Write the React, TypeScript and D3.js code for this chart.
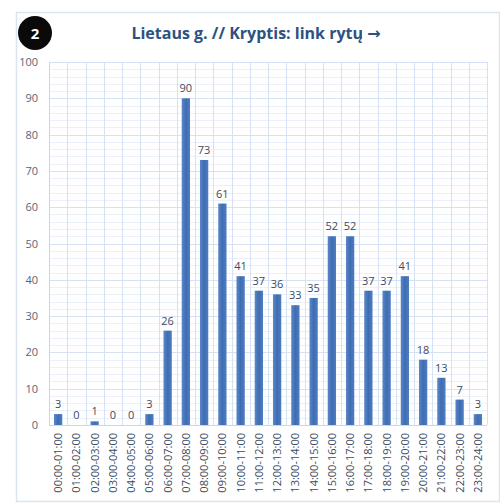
import React, { useEffect, useRef } from "react";
import * as d3 from "d3";

const hours = [
  "00:00-01:00", "01:00-02:00", "02:00-03:00", "03:00-04:00", "04:00-05:00", "05:00-06:00",
  "06:00-07:00", "07:00-08:00", "08:00-09:00", "09:00-10:00", "10:00-11:00", "11:00-12:00",
  "12:00-13:00", "13:00-14:00", "14:00-15:00", "15:00-16:00", "16:00-17:00", "17:00-18:00",
  "18:00-19:00", "19:00-20:00", "20:00-21:00", "21:00-22:00", "22:00-23:00", "23:00-24:00",
];
const counts = [3, 0, 1, 0, 0, 3, 26, 90, 73, 61, 41, 37, 36, 33, 35, 52, 52, 37, 37, 41, 18, 13, 7, 3];
const yTicks = [0, 10, 20, 30, 40, 50, 60, 70, 80, 90, 100];
const title = "Lietaus g. // Kryptis: link rytų ";
const titleArrow = "→";

export default function App() {
  const ref = useRef<SVGSVGElement>(null);

  useEffect(() => {
    const svg = d3.select(ref.current);
    svg.selectAll("*").remove();

    const margin = { top: 62, left: 49, right: 13, bottom: 79 };
    const width = 500, height = 504;
    const font = "'Open Sans', 'Noto Sans', sans-serif";

    // gradient for bars
    const defs = svg.append("defs");
    const grad = defs.append("linearGradient").attr("id", "barGrad").attr("x1", "0").attr("x2", "1");
    grad.append("stop").attr("offset", "0%").attr("stop-color", "#5b87c7");
    grad.append("stop").attr("offset", "50%").attr("stop-color", "#3f6db3");
    grad.append("stop").attr("offset", "100%").attr("stop-color", "#4f7dc0");

    // outer frame
    svg.append("rect")
      .attr("x", 16.5).attr("y", 12.5)
      .attr("width", 483).attr("height", 489)
      .attr("fill", "white").attr("stroke", "#dbe5f1").attr("stroke-width", 1.5);

    // badge
    svg.append("circle").attr("cx", 35).attr("cy", 33).attr("r", 17).attr("fill", "#0a0a0a");
    svg.append("text").attr("x", 35).attr("y", 38.5).attr("text-anchor", "middle")
      .attr("fill", "white").attr("font-family", font).attr("font-weight", "bold")
      .attr("font-size", 15).text("2");

    // title
    const t = svg.append("text").attr("x", 256).attr("y", 39).attr("text-anchor", "middle")
      .attr("fill", "#2c5282").attr("font-family", font).attr("font-weight", "bold")
      .attr("font-size", 16);
    t.append("tspan").text(title);
    t.append("tspan").attr("font-family", "'DejaVu Sans', sans-serif").attr("font-size", 16).text(titleArrow);

    const x = d3.scaleBand()
      .domain(hours)
      .range([margin.left, width - margin.right]);

    const y = d3.scaleLinear()
      .domain([0, 100])
      .range([height - margin.bottom, margin.top]);

    // minor grid
    svg.append("g")
      .selectAll("line")
      .data(d3.range(0, 101, 2))
      .enter()
      .append("line")
      .attr("x1", margin.left).attr("x2", width - margin.right)
      .attr("y1", d => Math.round(y(d)) + 0.5).attr("y2", d => Math.round(y(d)) + 0.5)
      .attr("stroke", d => (d % 10 === 0 ? "#d6e2f3" : "#ebf1fa"))
      .attr("stroke-width", 1);

    // vertical grid
    svg.append("g")
      .selectAll("line")
      .data(hours.concat(["end"]))
      .enter()
      .append("line")
      .attr("x1", (d, i) => Math.round(margin.left + i * x.bandwidth()) + 0.5)
      .attr("x2", (d, i) => Math.round(margin.left + i * x.bandwidth()) + 0.5)
      .attr("y1", y(100)).attr("y2", y(0))
      .attr("stroke", "#d6e2f3");

    // axis lines
    svg.append("line")
      .attr("x1", margin.left + 0.5).attr("x2", margin.left + 0.5)
      .attr("y1", y(100)).attr("y2", y(0))
      .attr("stroke", "#c6d7ee");
    svg.append("line")
      .attr("x1", margin.left).attr("x2", width - margin.right)
      .attr("y1", Math.round(y(0)) + 0.5).attr("y2", Math.round(y(0)) + 0.5)
      .attr("stroke", "#c6d7ee");

    // y tick labels
    svg.append("g")
      .selectAll("text")
      .data(yTicks)
      .enter()
      .append("text")
      .attr("x", 38).attr("y", d => y(d) + 4)
      .attr("text-anchor", "end")
      .attr("fill", "#5a6478").attr("font-family", font).attr("font-size", 11)
      .text(d => d);

    // bars
    const barW = 8.3;
    svg.append("g")
      .selectAll("rect")
      .data(counts)
      .enter()
      .append("rect")
      .attr("x", (d, i) => x(hours[i])! + (x.bandwidth() - barW) / 2)
      .attr("y", d => y(d))
      .attr("width", barW)
      .attr("height", d => y(0) - y(d))
      .attr("fill", "url(#barGrad)");

    // value labels
    svg.append("g")
      .selectAll("text")
      .data(counts)
      .enter()
      .append("text")
      .attr("x", (d, i) => x(hours[i])! + x.bandwidth() / 2)
      .attr("y", d => y(d) - 6)
      .attr("text-anchor", "middle")
      .attr("fill", "#3c4a60").attr("font-family", font).attr("font-size", 11)
      .text(d => d);

    // x labels
    svg.append("g")
      .selectAll("text")
      .data(hours)
      .enter()
      .append("text")
      .attr("transform", d => `translate(${x(d)! + x.bandwidth() / 2 + 4},${y(0) + 8}) rotate(-90)`)
      .attr("text-anchor", "end")
      .attr("fill", "#3c4a60").attr("font-family", font).attr("font-size", 11)
      .text(d => d);
  }, []);

  return (
    <svg ref={ref} width={500} height={504}
      style={{ position: "absolute", left: 0, top: 0, background: "white" }} />
  );
}
